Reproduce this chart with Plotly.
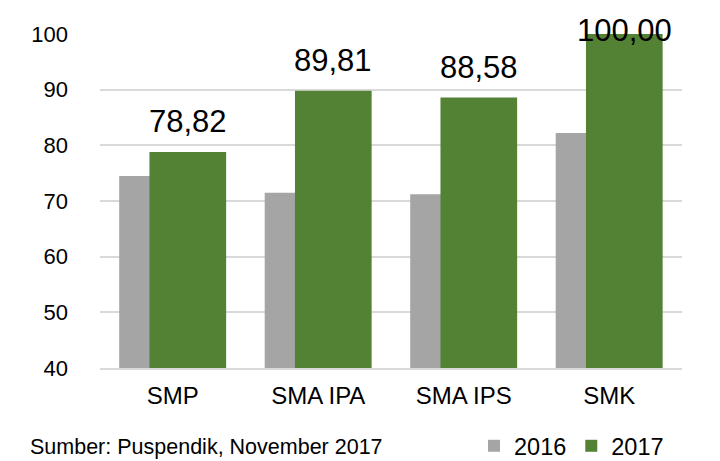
import plotly.graph_objects as go

categories = ["SMP", "SMA IPA", "SMA IPS", "SMK"]
values_2016 = [74.5, 71.5, 71.2, 82.2]
values_2017 = [78.82, 89.81, 88.58, 100.00]
series_names = ["2016", "2017"]
y_ticks = [40, 50, 60, 70, 80, 90, 100]

GRAY = "#A5A5A5"
GREEN = "#548235"
FONT = "Liberation Sans, Arial, sans-serif"

# page body has an 8px margin: size the figure so the visible window matches
OFF = 8
W, H = 720 - OFF, 461 - OFF
M_L, M_T = 100 - OFF, 34 - OFF
M_R = W - (682 - OFF)
M_B = H - (368 - OFF)
Y_MIN, Y_MAX = 40, 100

xs = list(range(len(categories)))
bar_w = 0.527

fig = go.Figure()
fig.add_trace(go.Bar(
    x=xs, y=values_2016, name=series_names[0],
    marker=dict(color=GRAY, line=dict(width=0)),
    width=bar_w, offset=-0.368,
))
fig.add_trace(go.Bar(
    x=xs, y=values_2017, name=series_names[1],
    marker=dict(color=GREEN, line=dict(width=0)),
    width=bar_w, offset=-0.160,
))

plot_w = W - M_L - M_R
plot_h = H - M_T - M_B
ppu = plot_h / (Y_MAX - Y_MIN)
annotations = []
for i, v in enumerate(values_2017):
    bartop = M_T + (Y_MAX - v) * ppu
    centre = max(bartop - 30, 22)
    annotations.append(dict(
        x=i - 0.160 + bar_w / 2, y=v, xref="x", yref="y",
        text=f"{v:.2f}".replace(".", ","), showarrow=False,
        yanchor="middle", xanchor="center", yshift=bartop - centre,
        font=dict(family=FONT, size=31, color="#000000"),
    ))

annotations.append(dict(
    x=(28 - OFF - M_L) / plot_w, y=(M_T + plot_h - (447 - OFF)) / plot_h,
    xref="paper", yref="paper", xanchor="left", yanchor="middle",
    text="Sumber: Puspendik, November 2017", showarrow=False,
    font=dict(family=FONT, size=21.5, color="#000000"),
))

fig.update_layout(
    width=W, height=H,
    margin=dict(l=M_L, r=M_R, t=M_T, b=M_B),
    paper_bgcolor="white", plot_bgcolor="white",
    barmode="overlay",
    showlegend=True,
    legend=dict(
        orientation="h", xref="container", yref="container",
        x=(669 - OFF) / W, xanchor="right",
        y=1 - (446 - OFF) / H, yanchor="middle",
        font=dict(family=FONT, size=23.5, color="#000000"),
        itemwidth=30, tracegroupgap=0, bgcolor="rgba(0,0,0,0)",
    ),
    annotations=annotations,
    xaxis=dict(
        range=[-0.5, len(categories) - 0.5],
        tickmode="array", tickvals=xs, ticktext=categories,
        showgrid=False, zeroline=False,
        showline=True, linecolor="#D9D9D9", linewidth=1.5,
        ticks="", ticklabelstandoff=5,
        tickfont=dict(family=FONT, size=24, color="#000000"),
    ),
    yaxis=dict(
        range=[Y_MIN, Y_MAX], tickmode="array", tickvals=y_ticks,
        showgrid=True, gridcolor="#D9D9D9", gridwidth=1.5,
        zeroline=False, showline=False, ticks="",
        ticklabelstandoff=31,
        tickfont=dict(family=FONT, size=22, color="#000000"),
    ),
)

fig.write_html("out.html")
